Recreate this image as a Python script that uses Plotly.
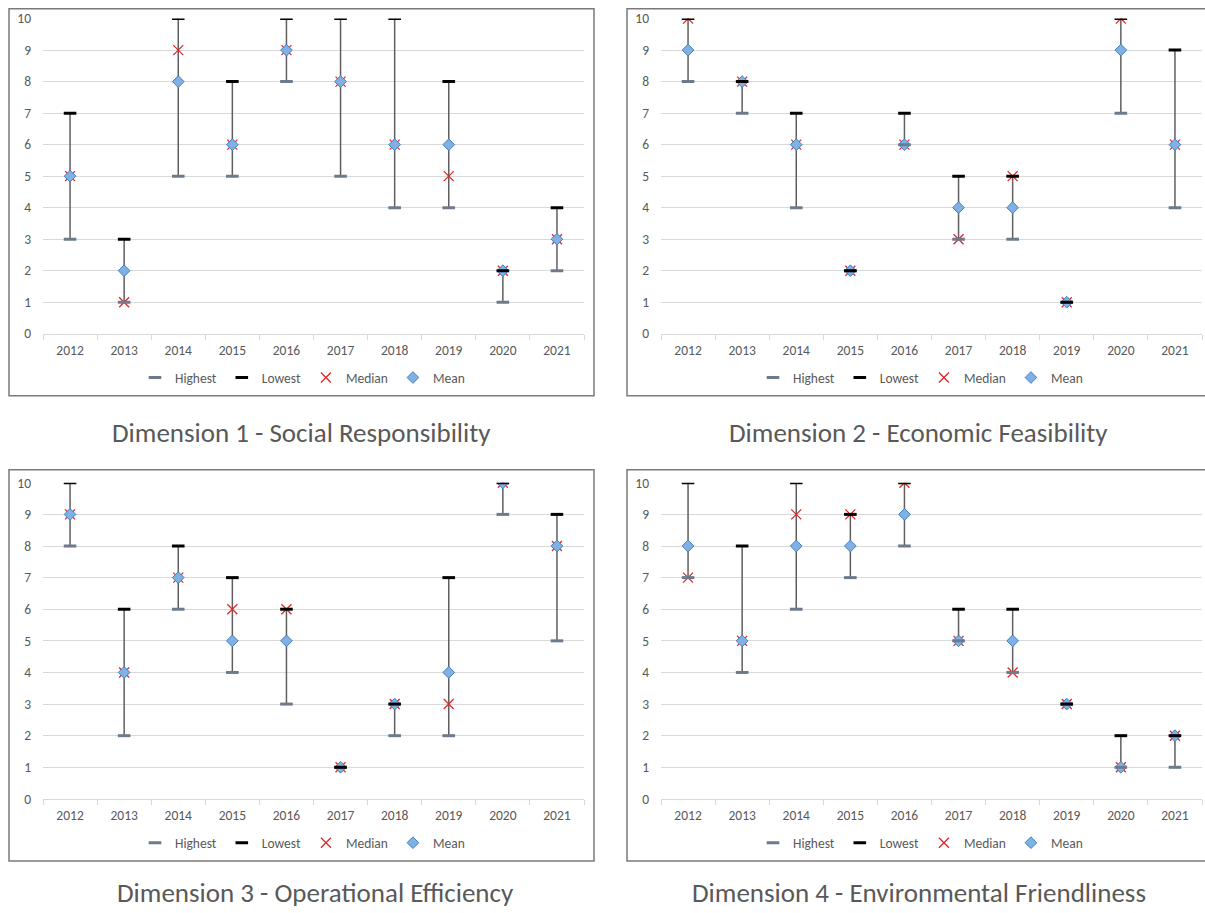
import plotly.graph_objects as go

years = ["2012", "2013", "2014", "2015", "2016", "2017", "2018", "2019", "2020", "2021"]

titles = [
    "Dimension 1 - Social Responsibility",
    "Dimension 2 - Economic Feasibility",
    "Dimension 3 - Operational Efficiency",
    "Dimension 4 - Environmental Friendliness",
]

# "Highest" series (grey dash, drawn at the bottom of each range)
highest_d1 = [3, 1, 5, 5, 8, 5, 4, 4, 1, 2]
highest_d2 = [8, 7, 4, 2, 6, 3, 3, 1, 7, 4]
highest_d3 = [8, 2, 6, 4, 3, 1, 2, 2, 9, 5]
highest_d4 = [7, 4, 6, 7, 8, 5, 4, 3, 1, 1]

# "Lowest" series (black dash, drawn at the top of each range)
lowest_d1 = [7, 3, 10, 8, 10, 10, 10, 8, 2, 4]
lowest_d2 = [10, 8, 7, 2, 7, 5, 5, 1, 10, 9]
lowest_d3 = [10, 6, 8, 7, 6, 1, 3, 7, 10, 9]
lowest_d4 = [10, 8, 10, 9, 10, 6, 6, 3, 2, 2]

median_d1 = [5, 1, 9, 6, 9, 8, 6, 5, 2, 3]
median_d2 = [10, 8, 6, 2, 6, 3, 5, 1, 10, 6]
median_d3 = [9, 4, 7, 6, 6, 1, 3, 3, 10, 8]
median_d4 = [7, 5, 9, 9, 10, 5, 4, 3, 1, 2]

mean_d1 = [5, 2, 8, 6, 9, 8, 6, 6, 2, 3]
mean_d2 = [9, 8, 6, 2, 6, 4, 4, 1, 9, 6]
mean_d3 = [9, 4, 7, 5, 5, 1, 3, 4, 10, 8]
mean_d4 = [8, 5, 8, 8, 9, 5, 5, 3, 1, 2]

panels = [
    (highest_d1, lowest_d1, median_d1, mean_d1),
    (highest_d2, lowest_d2, median_d2, mean_d2),
    (highest_d3, lowest_d3, median_d3, mean_d3),
    (highest_d4, lowest_d4, median_d4, mean_d4),
]

W, H = 1205, 913
FONT = "Carlito, Lato, sans-serif"
TXT = "#595959"
GRID = "#d9d9d9"

# vertical calibration of the photographed page (observed: shown = 8.4 + 0.981 * page)
V_OFF, V_SCALE = 8.4, 0.981


def px_x(p):
    return p / W


def px_y(p):
    page = (p - V_OFF) / V_SCALE
    page = max(0.75, min(H - 0.75, page))
    return 1 - page / H


# plot-area pixel boxes in target coordinates (left, right, top, bottom)
plot_boxes = [
    (43, 584, 19, 334),
    (661, 1202, 19, 334),
    (43, 584, 483, 799),
    (661, 1202, 483, 799),
]
# outer border boxes
border_boxes = [
    (9, 594, 6, 396),
    (627, 1215, 6, 396),
    (9, 594, 470, 861),
    (627, 1215, 470, 861),
]
legend_y = [378, 378, 843, 843]
title_pos = [(301, 433), (918, 433), (315, 893), (919, 893)]

fig = go.Figure()
shapes = []
annotations = []

for i, (hi, lo, med, mean) in enumerate(panels):
    n = i + 1
    xa = "x" if n == 1 else f"x{n}"
    ya = "y" if n == 1 else f"y{n}"
    lg = "legend" if n == 1 else f"legend{n}"

    lx, ly = [], []
    for yr, a, b in zip(years, hi, lo):
        lx += [yr, yr, None]
        ly += [a, b, None]
    fig.add_trace(go.Scatter(x=lx, y=ly, mode="lines", xaxis=xa, yaxis=ya,
                             line=dict(color="#5f5f5f", width=1.5),
                             showlegend=False, hoverinfo="skip"))
    fig.add_trace(go.Scatter(x=years, y=med, mode="markers", name="Median",
                             xaxis=xa, yaxis=ya, legend=lg, legendrank=3,
                             marker=dict(symbol="x-thin", size=10,
                                         line=dict(color="#e02828", width=1.3))))
    fig.add_trace(go.Scatter(x=years, y=mean, mode="markers", name="Mean",
                             xaxis=xa, yaxis=ya, legend=lg, legendrank=4,
                             marker=dict(symbol="diamond", size=9, color="#80b1e2",
                                         line=dict(color="#3f7fc6", width=1))))
    fig.add_trace(go.Scatter(x=years, y=hi, mode="markers", name="Highest",
                             xaxis=xa, yaxis=ya, legend=lg, legendrank=1,
                             marker=dict(symbol="line-ew", size=9,
                                         line=dict(color="#6d7a8c", width=3))))
    fig.add_trace(go.Scatter(x=years, y=lo, mode="markers", name="Lowest",
                             xaxis=xa, yaxis=ya, legend=lg, legendrank=2,
                             marker=dict(symbol="line-ew", size=9,
                                         line=dict(color="#000000", width=3))))

    l, r, t, b = plot_boxes[i]
    fig.layout[f"xaxis{'' if n == 1 else n}"] = dict(
        domain=[px_x(l), px_x(r)], anchor=ya, type="category",
        categoryorder="array", categoryarray=years,
        range=[-0.5, len(years) - 0.5],
        showline=True, linecolor=GRID, linewidth=1,
        ticks="outside", tickson="boundaries", ticklen=5, tickcolor=GRID,
        ticklabelstandoff=4,
        showgrid=False, zeroline=False, fixedrange=True,
        tickfont=dict(family=FONT, size=13.5, color=TXT),
    )
    fig.layout[f"yaxis{'' if n == 1 else n}"] = dict(
        domain=[px_y(b), px_y(t)], anchor=xa, range=[0, 10],
        tickmode="array", tickvals=list(range(0, 11)),
        showgrid=True, gridcolor=GRID, gridwidth=1, zeroline=False,
        showline=False, ticks="", ticklabelstandoff=11, fixedrange=True,
        tickfont=dict(family=FONT, size=13.5, color=TXT),
    )
    fig.layout[lg] = dict(
        orientation="h", x=px_x((l + r) / 2 - 11), xanchor="center",
        y=px_y(legend_y[i]), yanchor="middle",
        font=dict(family=FONT, size=13.5, color=TXT),
        bgcolor="rgba(0,0,0,0)", itemwidth=30, traceorder="normal",
    )

    bl, br, bt, bb = border_boxes[i]
    shapes.append(dict(type="rect", xref="paper", yref="paper",
                       x0=px_x(bl), x1=px_x(br), y0=px_y(bb), y1=px_y(bt),
                       line=dict(color="#7a7a7a", width=1.5), layer="below"))
    tx, ty = title_pos[i]
    annotations.append(dict(text=titles[i], xref="paper", yref="paper",
                            x=px_x(tx), y=px_y(ty), xanchor="center", yanchor="middle",
                            showarrow=False,
                            font=dict(family=FONT, size=27, color=TXT)))

fig.update_layout(
    width=W, height=H, autosize=False,
    margin=dict(l=0, r=0, t=0, b=0),
    paper_bgcolor="white", plot_bgcolor="white",
    shapes=shapes, annotations=annotations,
)

fig.write_html("out.html", config={"displayModeBar": False},
               post_script="document.body.style.margin='0';document.body.style.overflow='hidden';")
